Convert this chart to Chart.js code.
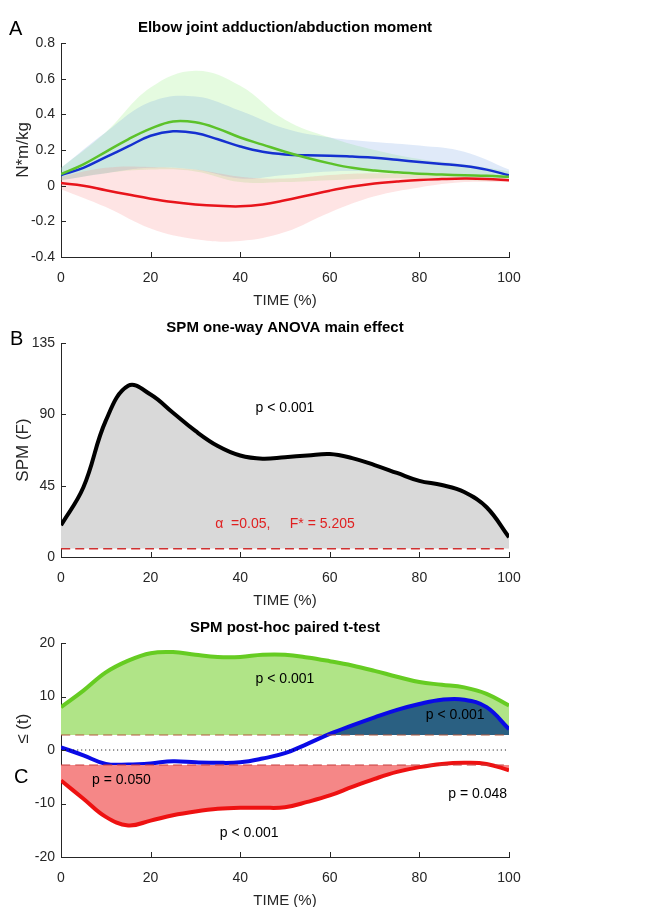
<!DOCTYPE html>
<html>
<head>
<meta charset="utf-8">
<script src="https://cdn.jsdelivr.net/npm/chart.js@4.4.0/dist/chart.umd.min.js"></script>
<style>
  body { margin: 0; background: #fff; width: 649px; height: 907px; position: relative; overflow: hidden; font-family: "Liberation Sans", Arial, sans-serif; }
  .panel { position: absolute; left: 0; width: 649px; height: 300px; }
  .tag { position: absolute; font-size: 20px; color: #000; line-height: 1; }
</style>
</head>
<body>
<div class="panel" style="top:10px"><canvas id="chartA"></canvas></div>
<div class="panel" style="top:310px"><canvas id="chartB"></canvas></div>
<div class="panel" style="top:610px"><canvas id="chartC"></canvas></div>
<div class="tag" style="left:9px;top:18px">A</div>
<div class="tag" style="left:10px;top:328px">B</div>
<div class="tag" style="left:14px;top:766px">C</div>

<script>
// ---------------- data ----------------
const time = [0, 5, 10, 15, 20, 25, 30, 35, 40, 45, 50, 55, 60, 65, 70, 75, 80, 85, 90, 95, 100];
const bandTime = [0, 10, 20, 30, 40, 50, 60, 70, 80, 90, 100];

// panel A: mean curves (N*m/kg)
const momentGreen = [0.065, 0.12, 0.19, 0.26, 0.32, 0.36, 0.355, 0.32, 0.27, 0.23, 0.19, 0.155, 0.125, 0.10, 0.085, 0.075, 0.067, 0.062, 0.058, 0.055, 0.05];
const momentBlue  = [0.06, 0.10, 0.16, 0.22, 0.28, 0.305, 0.295, 0.26, 0.22, 0.19, 0.175, 0.17, 0.168, 0.163, 0.157, 0.145, 0.133, 0.122, 0.11, 0.09, 0.058];
const momentRed   = [0.015, 0.0, -0.026, -0.05, -0.073, -0.092, -0.105, -0.113, -0.116, -0.105, -0.082, -0.055, -0.028, -0.005, 0.012, 0.023, 0.032, 0.037, 0.04, 0.038, 0.03];
// panel A: SD bands
const greenUpper = [0.10, 0.30, 0.55, 0.645, 0.56, 0.37, 0.27, 0.20, 0.15, 0.12, 0.08];
const greenLower = [0.03, 0.07, 0.09, 0.08, 0.02, 0.02, 0.03, 0.04, 0.04, 0.03, 0.03];
const blueUpper  = [0.10, 0.30, 0.47, 0.50, 0.42, 0.32, 0.27, 0.245, 0.225, 0.19, 0.09];
const blueLower  = [0.03, 0.07, 0.10, 0.09, 0.04, 0.06, 0.08, 0.08, 0.07, 0.05, 0.04];
const redUpper   = [0.05, 0.10, 0.105, 0.09, 0.05, 0.04, 0.06, 0.07, 0.06, 0.05, 0.04];
const redLower   = [-0.02, -0.12, -0.24, -0.30, -0.31, -0.26, -0.15, -0.06, -0.01, 0.02, 0.02];

// panel B: SPM{F}
const spmF = [20, 44, 86, 108, 102.5, 91, 79.5, 70, 64, 62, 63, 64, 65, 62.4, 58, 53, 48, 45.4, 41, 31.4, 12.5];
const fCrit = 5.205;

// panel C: SPM{t}
const tGreen = [8, 11.1, 14.5, 16.7, 18.1, 18.3, 17.8, 17.4, 17.4, 17.8, 17.8, 17.3, 16.6, 15.8, 14.8, 13.7, 12.7, 12.2, 11.7, 10.5, 8.3];
const tBlue  = [0.5, -1.0, -2.6, -2.7, -2.5, -2.1, -2.3, -2.4, -2.3, -1.6, -0.6, 1.15, 3.0, 4.6, 6.1, 7.5, 8.6, 9.4, 9.4, 8.0, 3.9];
const tRed   = [-5.7, -9.1, -12.5, -14.1, -13.2, -12.2, -11.5, -11.0, -10.8, -10.8, -10.7, -9.7, -8.5, -6.9, -5.4, -4.1, -3.2, -2.6, -2.4, -2.6, -3.8];
const tCrit = 2.8;

// ---------------- helpers ----------------
const AXIS = '#262626';
const FONT = '"Liberation Sans", Arial, sans-serif';

const pts = (xs, ys) => xs.map((x, i) => ({ x: x, y: ys[i] }));
const hline = v => [{ x: 0, y: v }, { x: 100, y: v }];

// MATLAB-like inward tick marks
const inwardTicks = {
    id: 'inwardTicks',
    afterDatasetsDraw(chart) {
        const { ctx, chartArea, scales } = chart;
        ctx.save();
        ctx.strokeStyle = AXIS;
        ctx.lineWidth = 1;
        ctx.beginPath();
        scales.x.ticks.forEach(t => {
            const px = Math.round(scales.x.getPixelForValue(t.value)) + 0.5;
            ctx.moveTo(px, chartArea.bottom);
            ctx.lineTo(px, chartArea.bottom - 5);
        });
        scales.y.ticks.forEach(t => {
            const py = Math.round(scales.y.getPixelForValue(t.value)) + 0.5;
            ctx.moveTo(chartArea.left, py);
            ctx.lineTo(chartArea.left + 5, py);
        });
        ctx.stroke();
        ctx.restore();
    }
};

// text labels placed in data coordinates
const notes = {
    id: 'notes',
    afterDatasetsDraw(chart, args, opts) {
        const { ctx, scales } = chart;
        (opts.items || []).forEach(n => {
            ctx.save();
            ctx.font = '14px ' + FONT;
            ctx.fillStyle = n.color || '#000';
            ctx.textAlign = 'center';
            ctx.textBaseline = 'middle';
            ctx.fillText(n.text, scales.x.getPixelForValue(n.x), scales.y.getPixelForValue(n.y));
            ctx.restore();
        });
    }
};

function panelOptions(title, yTitle, yMin, yMax, yStep, noteItems) {
    return {
        responsive: true,
        maintainAspectRatio: false,
        animation: false,
        layout: { padding: { left: 0, right: 140, top: 0, bottom: 0 } },
        elements: { point: { radius: 0 } },
        plugins: {
            legend: { display: false },
            tooltip: { enabled: false },
            title: {
                display: true,
                text: title,
                fullSize: false,
                color: '#000',
                font: { family: FONT, size: 15, weight: 'bold' },
                padding: { top: 9, bottom: 6 }
            },
            notes: { items: noteItems }
        },
        scales: {
            x: {
                type: 'linear',
                min: 0, max: 100,
                afterFit: s => { s.height = 53; },
                ticks: { stepSize: 20, color: AXIS, padding: 13, font: { family: FONT, size: 14 } },
                grid: { display: false, drawTicks: false },
                border: { display: true, color: AXIS, width: 1 },
                title: { display: true, text: 'TIME (%)', color: AXIS, font: { family: FONT, size: 15 }, padding: 0 }
            },
            y: {
                min: yMin, max: yMax,
                afterFit: s => { s.width = 61; },
                ticks: {
                    stepSize: yStep, color: AXIS, padding: 6, font: { family: FONT, size: 14 },
                    callback: v => String(Math.round(v * 10) / 10)
                },
                grid: { display: false, drawTicks: false },
                border: { display: true, color: AXIS, width: 1 },
                title: { display: true, text: yTitle, color: AXIS, font: { family: FONT, size: 17 }, padding: { top: 13, bottom: 0 } }
            }
        }
    };
}

const line = (data, color, width, extra) => Object.assign({
    data: data,
    borderColor: color,
    borderWidth: width,
    tension: 0.4,
    fill: false,
    pointRadius: 0
}, extra || {});

// ---------------- panel A ----------------
new Chart(document.getElementById('chartA'), {
    type: 'line',
    data: {
        datasets: [
            line(pts(time, momentRed), '#e8141b', 2.5),
            line(pts(time, momentGreen), '#5cc22a', 2.5),
            line(pts(time, momentBlue), '#1530d0', 2.5),
            line(pts(bandTime, redUpper), 'transparent', 0),
            line(pts(bandTime, redLower), 'transparent', 0, { fill: '-1', backgroundColor: 'rgba(250,120,120,0.2)' }),
            line(pts(bandTime, blueUpper), 'transparent', 0),
            line(pts(bandTime, blueLower), 'transparent', 0, { fill: '-1', backgroundColor: 'rgba(100,150,225,0.2)' }),
            line(pts(bandTime, greenUpper), 'transparent', 0),
            line(pts(bandTime, greenLower), 'transparent', 0, { fill: '-1', backgroundColor: 'rgba(150,240,130,0.25)' })
        ]
    },
    options: panelOptions('Elbow joint adduction/abduction moment', 'N*m/kg', -0.4, 0.8, 0.2, []),
    plugins: [inwardTicks, notes]
});

// ---------------- panel B ----------------
new Chart(document.getElementById('chartB'), {
    type: 'line',
    data: {
        datasets: [
            line(hline(fCrit), '#d03030', 1.5, { borderDash: [9, 5] }),
            line(pts(time, spmF), '#000', 4, {
                fill: { target: { value: fCrit }, above: 'rgb(217,217,217)', below: 'transparent' }
            })
        ]
    },
    options: panelOptions('SPM one-way ANOVA main effect', 'SPM (F)', 0, 135, 45, [
        { text: 'p < 0.001', x: 50, y: 94 },
        { text: '\u03b1  =0.05,     F* = 5.205', x: 50, y: 21, color: '#e02020' }
    ]),
    plugins: [inwardTicks, notes]
});

// ---------------- panel C ----------------
new Chart(document.getElementById('chartC'), {
    type: 'line',
    data: {
        datasets: [
            line(hline(0), '#000', 1, { borderDash: [1, 3] }),
            line(hline(tCrit), '#b4583c', 1.2, { borderDash: [9, 5] }),
            line(hline(-tCrit), '#c83c3c', 1.2, { borderDash: [9, 5] }),
            line(pts(time, tRed), '#ee1111', 4, {
                fill: { target: { value: -tCrit }, above: 'transparent', below: 'rgb(245,135,135)' }
            }),
            line(pts(time, tBlue), '#0a0ae6', 4, {
                fill: { target: { value: tCrit }, above: 'rgb(42,96,130)', below: 'transparent' }
            }),
            line(pts(time, tGreen), '#66cc22', 4, {
                fill: { target: { value: tCrit }, above: 'rgb(176,228,135)', below: 'transparent' }
            })
        ]
    },
    // label sits above the "C" tag, so leading spaces push it up the axis
    options: panelOptions('SPM post-hoc paired t-test', '         \u2264 (t)', -20, 20, 10, [
        { text: 'p < 0.001', x: 50, y: 13.3 },
        { text: 'p < 0.001', x: 88, y: 6.5 },
        { text: 'p = 0.050', x: 13.5, y: -5.6 },
        { text: 'p = 0.048', x: 93, y: -8.2 },
        { text: 'p < 0.001', x: 42, y: -15.5 }
    ]),
    plugins: [inwardTicks, notes]
});
</script>
</body>
</html>
